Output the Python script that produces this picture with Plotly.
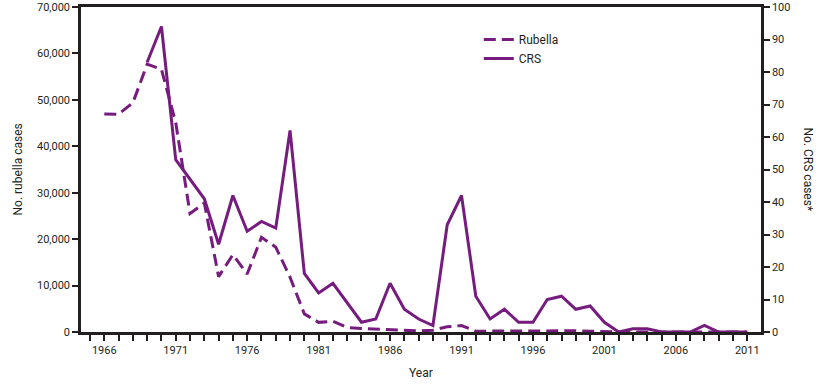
import plotly.graph_objects as go

rubella_years = list(range(1966, 2012))
rubella_cases = [46975, 46900, 49371, 57686, 56552, 45086, 25507, 27804, 11917, 16652,
                 12491, 20395, 18269, 11795, 3904, 2077, 2325, 970, 752, 630,
                 551, 306, 225, 396, 1125, 1401, 160, 192, 227, 128,
                 238, 181, 364, 267, 176, 23, 18, 7, 10, 11,
                 11, 12, 16, 3, 5, 4]

crs_years = list(range(1969, 2012))
crs_cases = [83, 94, 53, 47, 41, 27, 42, 31, 34, 32,
             62, 18, 12, 15, 9, 3, 4, 15, 7, 4,
             2, 33, 42, 11, 4, 7, 3, 3, 10, 11,
             7, 8, 3, 0, 1, 1, 0, 0, 0, 2,
             0, 0, 0]

purple = "#761C7E"
font_family = "Roboto, Arial, sans-serif"
text_color = "#231F20"

fig = go.Figure()
fig.add_trace(go.Scatter(x=rubella_years, y=rubella_cases, mode="lines", name="Rubella",
                         line=dict(color=purple, width=3, dash="12px,6px"), yaxis="y"))
fig.add_trace(go.Scatter(x=crs_years, y=crs_cases, mode="lines", name="CRS",
                         line=dict(color=purple, width=3), yaxis="y2"))

fig.update_layout(
    width=824, height=385,
    margin=dict(l=81, r=63, t=7, b=53, autoexpand=False),
    paper_bgcolor="white", plot_bgcolor="white",
    font=dict(family=font_family, size=11, color=text_color),
    showlegend=True,
    legend=dict(x=0.585, y=0.945, xanchor="left", yanchor="top",
                bgcolor="rgba(0,0,0,0)", font=dict(size=12, color=text_color),
                tracegroupgap=0, itemwidth=30),
    xaxis=dict(range=[1964.37, 2011.96], tickmode="linear", tick0=1966, dtick=5,
               ticks="outside", ticklen=6, tickwidth=2, tickcolor="#231F20",
               minor=dict(tickmode="linear", tick0=1966, dtick=1, ticks="outside",
                          ticklen=6, tickwidth=2, tickcolor="#231F20", showgrid=False),
               showline=True, linecolor="#231F20", linewidth=2.5, mirror=True,
               showgrid=False, zeroline=False),
    yaxis=dict(range=[0, 70000], tickmode="linear", tick0=0, dtick=10000,
               tickformat=",", ticks="outside", ticklen=6, tickwidth=2,
               tickcolor="#231F20", showline=True, linecolor="#231F20", linewidth=2.5,
               showgrid=False, zeroline=False),
    yaxis2=dict(range=[0, 100], overlaying="y", side="right", tickmode="linear",
                tick0=0, dtick=10, ticks="outside", ticklen=6, tickwidth=2,
                tickcolor="#231F20", showline=True, linecolor="#231F20", linewidth=2.5,
                showgrid=False, zeroline=False),
    annotations=[
        dict(text="No. CRS cases*", xref="paper", yref="paper",
             x=1.0, xshift=47, y=0.5, textangle=90, showarrow=False,
             font=dict(size=12, color=text_color), xanchor="center", yanchor="middle"),
        dict(text="No. rubella cases", xref="paper", yref="paper",
             x=0.0, xshift=-64, y=0.5, textangle=-90, showarrow=False,
             font=dict(size=12, color=text_color), xanchor="center", yanchor="middle"),
        dict(text="Year", xref="paper", yref="paper",
             x=0.5, y=0.0, yshift=-41, showarrow=False,
             font=dict(size=12, color=text_color), xanchor="center", yanchor="middle"),
    ],
)

fig.write_html("out.html", config={"displayModeBar": False},
               post_script="document.body.style.margin='0';document.body.style.overflow='hidden';")
